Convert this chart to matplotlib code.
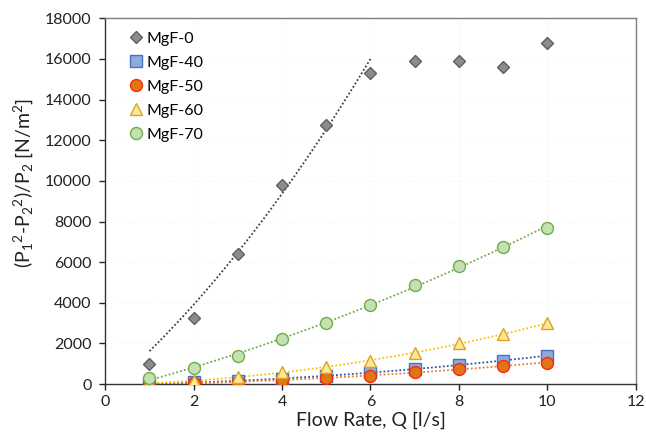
import numpy as np
import matplotlib
matplotlib.use("Agg")
import matplotlib.pyplot as plt

plt.rcParams['font.family'] = ['Lato', 'DejaVu Sans']
plt.rcParams['mathtext.fontset'] = 'custom'
plt.rcParams['mathtext.rm'] = 'Lato'
plt.rcParams['mathtext.it'] = 'Lato:italic'

# Daten
flow = [1, 2, 3, 4, 5, 6, 7, 8, 9, 10]
mgf_0 = [1000, 3250, 6400, 9800, 12750, 15300, 15900, 15900, 15600, 16800]
mgf_40 = [20, 80, 150, 250, 400, 600, 750, 950, 1150, 1400]
mgf_50 = [0, 50, 80, 200, 300, 400, 600, 750, 900, 1050]
mgf_60 = [50, 150, 350, 600, 850, 1150, 1550, 2000, 2450, 3000]
mgf_70 = [300, 800, 1400, 2200, 3000, 3900, 4900, 5800, 6750, 7700]

# Trendlinie MgF-0 (nur Q = 1..6), Werte der Linie
trend_0_flow = [1, 2, 3, 4, 5, 6]
trend_0 = [1720, 3790, 6400, 9450, 12700, 15900]

# (name, werte, marker, groesse, fill, edge, trendfarbe)
series = [
    ("MgF-0", mgf_0, "D", 6.2, "#8c8c8c", "#5f5f5f", "#404040"),
    ("MgF-40", mgf_40, "s", 8, "#8faadc", "#4472c4", "#2f5597"),
    ("MgF-50", mgf_50, "o", 8.6, "#e0761a", "#ff2a00", "#ed7d31"),
    ("MgF-60", mgf_60, "^", 9, "#ffe699", "#d9a520", "#ffc000"),
    ("MgF-70", mgf_70, "o", 8.6, "#c5e0b4", "#70ad47", "#70ad47"),
]

fig, ax = plt.subplots(figsize=(6.46, 4.37), dpi=100)
fig.subplots_adjust(left=0.163, right=0.984, top=0.958, bottom=0.121)

dots = (0, (1, 1.2))
for name, vals, mk, ms, fc, ec, tc in series:
    if name == "MgF-0":
        x = np.array(trend_0_flow, dtype=float)
        y = np.array(trend_0, dtype=float)
        deg = 2
    else:
        x = np.array(flow, dtype=float)
        y = np.array(vals, dtype=float)
        deg = 2
    coef = np.polyfit(x, y, deg)
    xs = np.linspace(x[0], x[-1], 100)
    ax.plot(xs, np.polyval(coef, xs), linestyle=dots, color=tc,
            linewidth=1.3, zorder=2)

for name, vals, mk, ms, fc, ec, tc in series:
    ax.plot(flow, vals, linestyle="none", marker=mk, markersize=ms,
            markerfacecolor=fc, markeredgecolor=ec, markeredgewidth=1.0,
            label=name, zorder=3)

ax.set_xlim(0, 12)
ax.set_ylim(0, 18000)
ax.set_xticks(range(0, 13, 2))
ax.set_yticks(range(0, 18001, 2000))
ax.tick_params(labelsize=11.5, colors="#222222", length=4, width=1,
               direction="out")
ax.tick_params(axis="y", pad=6)

for sp in ax.spines.values():
    sp.set_color("#7f7f7f")
    sp.set_linewidth(1.0)
ax.spines["bottom"].set_color("#333333")
ax.spines["left"].set_color("#333333")

ax.grid(True, color="#f0f0f0", linestyle=(0, (1, 2)), linewidth=0.6)
ax.set_axisbelow(True)

ax.set_xlabel("Flow Rate, Q [l/s]", fontsize=14, color="#222222", labelpad=2)
ax.set_ylabel(r"(P$_1$$^2$-P$_2$$^2$)/P$_2$ [N/m$^2$]", fontsize=14,
              color="#222222")
ax.yaxis.set_label_coords(-0.132, 0.55)

ax.legend(loc="upper left", frameon=False, fontsize=11.5, handletextpad=0.15,
          handlelength=1.0, borderaxespad=0.3, labelspacing=0.62,
          bbox_to_anchor=(0.022, 0.995))

fig.savefig("out.png", dpi=100)
